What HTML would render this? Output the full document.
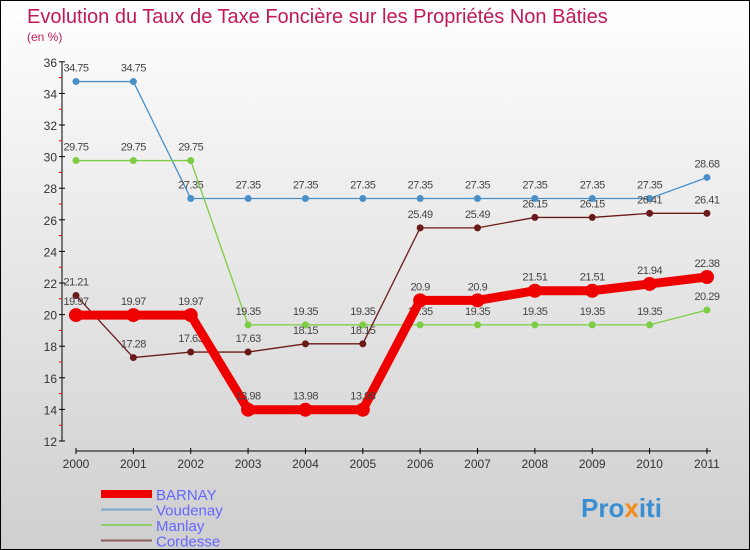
<!DOCTYPE html>
<html><head><meta charset="utf-8"><style>
body{margin:0}
#c{width:750px;height:550px;position:relative;box-sizing:border-box;border:1px solid #000;background:linear-gradient(#fff,#f2f2f2 25%,#cfcfcf);font-family:"Liberation Sans",sans-serif;overflow:hidden}
</style></head><body>
<div id="c">
<svg id="s" width="750" height="550" style="position:absolute;left:0;top:0">
<text x="26" y="22" font-size="20" fill="#c2185b">Evolution du Taux de Taxe Foncière sur les Propriétés Non Bâties</text>
<text x="26" y="40" font-size="12" fill="#c2185b">(en %)</text>
<g id="g"></g>
<text x="580" y="516" font-size="26" font-weight="bold" fill="#3a8fd0">Pro<tspan fill="#f28c1b">x</tspan>iti</text>
</svg>
</div>
<script>
const years=["2000","2001","2002","2003","2004","2005","2006","2007","2008","2009","2010","2011"];
const yTicks=[12,14,16,18,20,22,24,26,28,30,32,34,36];
const barnay=[19.97,19.97,19.97,13.98,13.98,13.98,20.9,20.9,21.51,21.51,21.94,22.38];
const voudenay=[34.75,34.75,27.35,27.35,27.35,27.35,27.35,27.35,27.35,27.35,27.35,28.68];
const manlay=[29.75,29.75,29.75,19.35,19.35,19.35,19.35,19.35,19.35,19.35,19.35,20.29];
const cordesse=[21.21,17.28,17.63,17.63,18.15,18.15,25.49,25.49,26.15,26.15,26.41,26.41];
const NS="http://www.w3.org/2000/svg",g=document.getElementById('g');
const X=i=>75+i*57.36, Y=v=>440-(v-12)*15.8;
function mk(t,a,txt){const e=document.createElementNS(NS,t);for(const k in a)e.setAttribute(k,a[k]);if(txt!==undefined)e.textContent=txt;g.appendChild(e);return e;}
let e=mk('line',{x1:61,y1:Y(36),x2:61,y2:Y(12),stroke:'#000'});


e=mk('line',{x1:75,y1:450,x2:710,y2:450,stroke:'#000'});


yTicks.forEach(v=>{
 mk('line',{x1:58,x2:64,y1:Y(v),y2:Y(v),stroke:'#000'});
 if(v<36)mk('line',{x1:58,x2:61,y1:Y(v+1),y2:Y(v+1),stroke:'#e00'});
 e=mk('text',{x:56,y:Y(v)+5,'font-size':12,fill:'#333','text-anchor':'end'},v);
 
 
});
years.forEach((y,i)=>{
 mk('line',{x1:X(i),x2:X(i),y1:447,y2:453,stroke:'#000'});
 e=mk('text',{x:X(i),y:467,'font-size':12,fill:'#333','text-anchor':'middle'},y);
 
 
});
function series(d,col,w,r,name){
 e=mk('polyline',{points:d.map((v,i)=>X(i)+','+Y(v)).join(' '),fill:'none',stroke:col,'stroke-width':w});
 
 
 d.forEach((v,i)=>{
  e=mk('circle',{cx:X(i),cy:Y(v),r:r,fill:col});
  
  
  e=mk('text',{x:X(i),y:Y(v)-10,'font-size':11,fill:'#444','text-anchor':'middle','letter-spacing':'-0.5'},String(v));
  
  
 });
}
series(voudenay,'#4a90c8',1.3,3.5,'voudenay');
series(manlay,'#7ccc44',1.3,3.5,'manlay');
series(cordesse,'#6b1a1a',1.3,3.5,'cordesse');
series(barnay,'#ee0000',9,7,'barnay');
const leg=[["BARNAY","#ee0000",8],["Voudenay","#7aa8c8",2],["Manlay","#90d070",2],["Cordesse","#906060",2]];
leg.forEach((l,i)=>{
 const y=493+i*15.5;
 e=mk('line',{x1:100,x2:151,y1:y,y2:y,stroke:l[1],'stroke-width':l[2]});
 
 
 e=mk('text',{x:155,y:y+6,'font-size':15,fill:'#6666ff'},l[0]);
 
 
});
</script>
</body></html>
